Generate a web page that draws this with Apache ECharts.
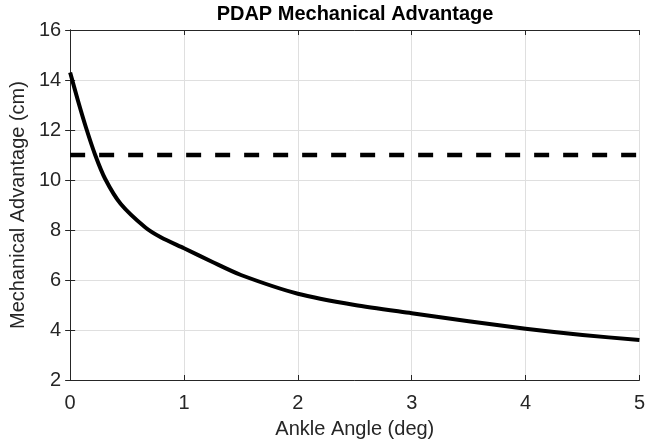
<!DOCTYPE html>
<html lang="en">
<head>
 <meta charset="UTF-8">
 <title>PDAP Mechanical Advantage</title>
 <style>
  html, body { margin: 0; padding: 0; background: #fff; }
 </style>
</head>
<body>
 <div id="main" style="width: 648px;height:445px;"></div>
 <script src="https://cdn.jsdelivr.net/npm/echarts@6/dist/echarts.min.js"></script>
 <script type="text/javascript">
// ankle angle (deg) and mechanical advantage (cm)
var angle = [0, 0.067, 0.139, 0.22, 0.307, 0.443, 0.661, 0.8, 1, 1.25, 1.5, 2, 2.5, 3, 3.5, 4, 4.5, 5];
var advantage = [14.3, 13.2, 12.1, 11.0, 10.05, 9.05, 8.1, 7.7, 7.27, 6.72, 6.2, 5.45, 5.0, 4.67, 4.35, 4.05, 3.8, 3.6];
// dashed reference level
var refX = [0, 5];
var refY = [11, 11];
var xTicks = [0, 1, 2, 3, 4, 5];
var yTicks = [2, 4, 6, 8, 10, 12, 14, 16];

var myChart = echarts.init(document.getElementById('main'));

var font = 'Liberation Sans, Arial, sans-serif';
var axisColor = '#262626';

function pairs(xs, ys) {
    return xs.map(function (x, i) { return [x, ys[i]]; });
}

var boxAxis = {
    axisLine: { show: true, lineStyle: { color: axisColor, width: 1 } },
    axisTick: { show: true, inside: true, length: 5, lineStyle: { color: axisColor } },
    axisLabel: { show: false },
    splitLine: { show: false }
};

myChart.setOption({
    animation: false,
    backgroundColor: '#fff',
    title: {
        text: 'PDAP Mechanical Advantage',
        left: 355,
        textAlign: 'center',
        top: 4,
        padding: 0,
        textStyle: { fontFamily: font, fontSize: 20, fontWeight: 'bold', color: '#000' }
    },
    grid: { left: 68, right: 5, top: 30, bottom: 65 },
    xAxis: [{
        type: 'value',
        min: xTicks[0],
        max: xTicks[xTicks.length - 1],
        interval: 1,
        name: 'Ankle Angle (deg)',
        nameLocation: 'middle',
        nameGap: 39,
        nameTextStyle: { fontFamily: font, fontSize: 20, color: '#262626' },
        axisLine: { show: true, onZero: false, lineStyle: { color: axisColor, width: 1 } },
        axisTick: { show: true, inside: true, length: 5, lineStyle: { color: axisColor } },
        axisLabel: { fontFamily: font, fontSize: 20, color: '#262626', margin: 13 },
        splitLine: { show: true, lineStyle: { color: '#dfdfdf', width: 1 } }
    }, Object.assign({
        type: 'value', position: 'top',
        min: xTicks[0], max: xTicks[xTicks.length - 1], interval: 1
    }, boxAxis)],
    yAxis: [{
        type: 'value',
        min: yTicks[0],
        max: yTicks[yTicks.length - 1],
        interval: 2,
        name: 'Mechanical Advantage (cm)',
        nameLocation: 'middle',
        nameGap: 39,
        nameTextStyle: { fontFamily: font, fontSize: 20, color: '#262626' },
        axisLine: { show: true, onZero: false, lineStyle: { color: axisColor, width: 1 } },
        axisTick: { show: true, inside: true, length: 5, lineStyle: { color: axisColor } },
        axisLabel: { fontFamily: font, fontSize: 20, color: '#262626', margin: 9 },
        splitLine: { show: true, lineStyle: { color: '#dfdfdf', width: 1 } }
    }, Object.assign({
        type: 'value', position: 'right',
        min: yTicks[0], max: yTicks[yTicks.length - 1], interval: 2
    }, boxAxis)],
    series: [{
        type: 'line',
        data: pairs(refX, refY),
        showSymbol: false,
        lineStyle: { color: '#000', width: 4.5, type: [15, 14] },
        silent: true
    }, {
        type: 'line',
        data: pairs(angle, advantage),
        showSymbol: false,
        smooth: 0.25,
        lineStyle: { color: '#000', width: 4, join: 'round' },
        silent: true
    }]
});
 </script>
</body>
</html>
